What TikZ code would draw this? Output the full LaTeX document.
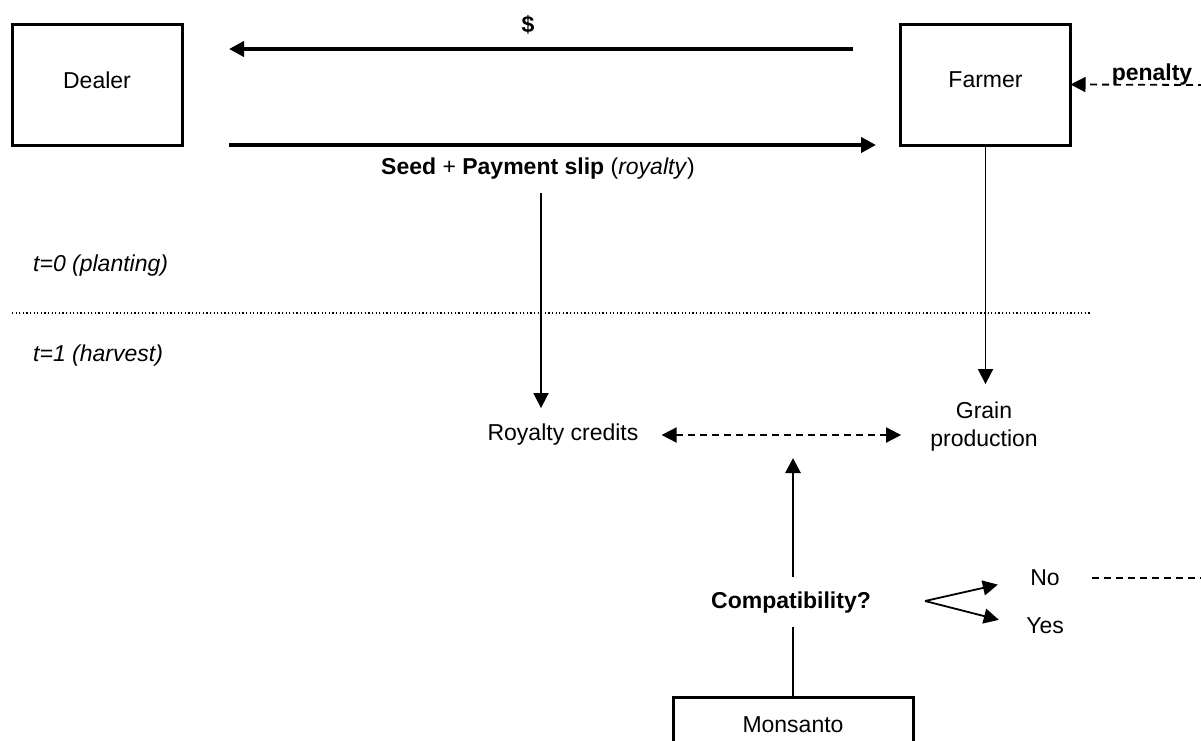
\documentclass[tikz,border=0pt]{standalone}
\usepackage{fontspec}
\setmainfont{Liberation Sans}
\usepackage{tikz}
\usetikzlibrary{arrows.meta}

\tikzset{
  lbl/.style={font=\fontsize{23}{28}\selectfont, inner sep=3pt},
  actor/.style={lbl, draw, line width=3pt, minimum width=170pt, minimum height=121pt, text depth=9pt},
  bigflow/.style={->, line width=4.5pt},
  flow/.style={->, line width=1.8pt},
  dashline/.style={line width=1.8pt, dash pattern=on 7pt off 5pt},
}

\begin{document}
\begin{tikzpicture}[x=1pt, y=-1pt, >={Triangle[length=15pt,width=15pt]}]
\clip (0,0) rectangle (1201,740);

% Actors
\node[actor] (dealer) at (97,84.5) {Dealer};
\node[actor] (farmer) at (985.5,84.5) {Farmer};
\node[actor, minimum width=240pt, minimum height=56pt, text depth=0pt] (monsanto) at (793,725) {Monsanto};

% Money and seed flows
\coordinate (paystart) at (853,49);
\coordinate (payend) at (229,49);
\draw[bigflow] (paystart) -- (payend);
\node[lbl] (dollar) at (528,25) {\textbf{\$}};

\coordinate (seedstart) at (229,145);
\coordinate (seedend) at (876,145);
\draw[bigflow] (seedstart) -- (seedend);
\node[lbl] (slip) at (538,169) {\textbf{Seed} + \textbf{Payment slip} (\textit{royalty})};

% Time line
\draw[line width=1.2pt, dash pattern=on 1.2pt off 2.4pt] (12,313) -- (1091,313);
\node[lbl, anchor=west, inner sep=0pt] (plant) at (33,266) {\textit{t=0 (planting)}};
\node[lbl, anchor=west, inner sep=0pt] (harvest) at (33,356) {\textit{t=1 (harvest)}};

% Outcomes at harvest
\node[lbl] (credits) at (563,435) {Royalty credits};
\node[lbl, align=center] (grain) at (984,427) {Grain\\production};
\draw[flow, shorten <=10pt, shorten >=13pt] ([xshift=3pt]slip.south) -- ([xshift=3pt]slip.south |- credits.north);
\draw[flow, shorten >=15pt] (farmer.south) -- (farmer.south |- grain.north);
\draw[dashline, <->, shorten <=20pt, shorten >=26pt] (credits.east) -- (credits.east -| grain.west);

% Monsanto check
\node[lbl] (compat) at (791,603) {\textbf{Compatibility?}};
\coordinate (uptip) at (793,458);
\draw[->, line width=2.8pt, shorten <=12pt] (monsanto.north |- compat.north) -- (uptip);
\draw[line width=2.8pt, shorten <=10pt] (monsanto.north |- compat.south) -- (monsanto.north);

% Yes / No branch
\coordinate (fork) at (925,601);
\node[lbl] (no) at (1045,578) {No};
\node[lbl] (yes) at (1045,626) {Yes};
\draw[flow, shorten >=30pt] (fork) -- (no.west);
\draw[flow, shorten >=25pt] (fork) -- (yes.west);
\coordinate (noend) at (1205,578);
\draw[dashline, shorten <=29pt] (no.east) -- (noend);

% Penalty back to farmer
\coordinate (penstart) at (1205,85);
\draw[dashline, ->, shorten >=-1.5pt] (penstart) -- (farmer.east);
\node[lbl, anchor=base] (penalty) at (1152,80) {\textbf{penalty}};
\end{tikzpicture}
\end{document}
